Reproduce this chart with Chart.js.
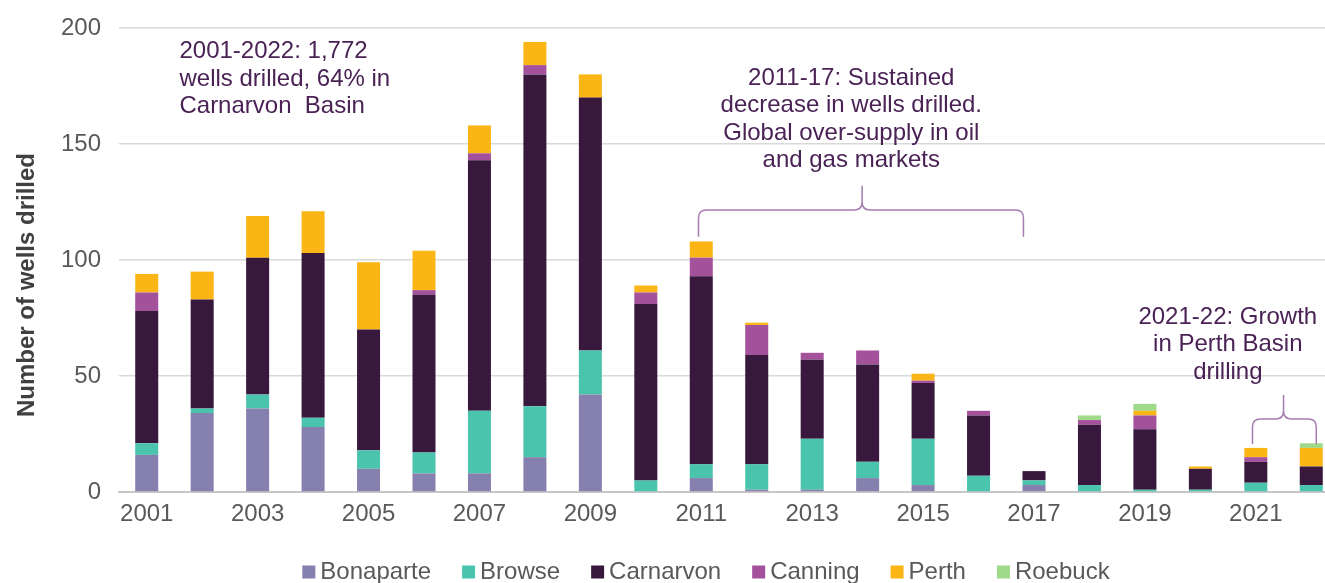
<!DOCTYPE html>
<html>
<head>
<meta charset="utf-8">
<script src="https://cdn.jsdelivr.net/npm/chart.js@4"></script>
<style>
  html, body { margin: 0; padding: 0; overflow: hidden; background: #fff; }
  canvas { display: block; }
</style>
</head>
<body>
<canvas id="chart" width="1345" height="586"></canvas>
<script>
var years = ["2001", "2002", "2003", "2004", "2005", "2006", "2007", "2008", "2009", "2010", "2011",
  "2012", "2013", "2014", "2015", "2016", "2017", "2018", "2019", "2020", "2021", "2022"];
var bonaparte = [16, 34, 36, 28, 10, 8, 8, 15, 42, 0, 6, 1, 1, 6, 3, 0, 3, 0, 0, 0, 0, 0];
var browse    = [5, 2, 6, 4, 8, 9, 27, 22, 19, 5, 6, 11, 22, 7, 20, 7, 2, 3, 1, 1, 4, 3];
var carnarvon = [57, 47, 59, 71, 52, 68, 108, 143, 109, 76, 81, 47, 34, 42, 24, 26, 4, 26, 26, 9, 9, 8];
var canning   = [8, 0, 0, 0, 0, 2, 3, 4, 0, 5, 8, 13, 3, 6, 1, 2, 0, 2, 6, 0, 2, 0];
var perth     = [8, 12, 18, 18, 29, 17, 12, 10, 10, 3, 7, 1, 0, 0, 3, 0, 0, 0, 2, 1, 4, 8];
var roebuck   = [0, 0, 0, 0, 0, 0, 0, 0, 0, 0, 0, 0, 0, 0, 0, 0, 0, 2, 3, 0, 0, 2];
var y_ticks = [0, 50, 100, 150, 200];

//annotation text, anchored in data units (x = category index, y = value)
var notes = [
  { x: 0.59, y: 189.8, align: "left",
    lines: ["2001-2022: 1,772", "wells drilled, 64% in", "Carnarvon  Basin"] },
  { x: 12.705, y: 178.3, align: "center",
    lines: ["2011-17: Sustained", "decrease in wells drilled.", "Global over-supply in oil", "and gas markets"] },
  { x: 19.495, y: 75.3, align: "center",
    lines: ["2021-22: Growth", "in Perth Basin", "drilling"] }
];
//braces: left/tip/right as category index, bottom/mid/top as values
var braces = [
  { left: 9.95, tip: 12.9, right: 15.81, bottom: 110, mid: 121.5, top: 132 },
  { left: 19.94, tip: 20.5, right: 21.09, bottom: 20.7, mid: 31.5, top: 41.8 }
];

var FONT = "'Liberation Sans', Arial, sans-serif";
var NOTE_COLOUR = "#4a2255";
var BRACE_COLOUR = "#a57cb0";

function make_set(label, data, colour) {
  return { label: label, data: data, backgroundColor: colour, borderWidth: 0,
           barPercentage: 0.415, categoryPercentage: 1.0 };
}

var annotations = {
  id: "annotations",
  afterDraw: function(chart) {
    var ctx = chart.ctx;
    var xs = chart.scales.x, ys = chart.scales.y;
    ctx.save();

    //y axis title
    ctx.save();
    ctx.translate(27, 285);
    ctx.rotate(-Math.PI / 2);
    ctx.font = "bold 24px " + FONT;
    ctx.fillStyle = "#404040";
    ctx.textAlign = "center";
    ctx.textBaseline = "middle";
    ctx.fillText("Number of wells drilled", 0, 0);
    ctx.restore();

    //legend, drawn here so the box/text gap matches the original
    ctx.font = "24px " + FONT;
    ctx.textBaseline = "middle";
    ctx.textAlign = "left";
    var items = chart.data.datasets;
    var widths = items.map(function(d) { return 18 + ctx.measureText(d.label).width; });
    var total = widths.reduce(function(a, b) { return a + b; }, 0) + 31 * (items.length - 1);
    var lx = 706 - total / 2, ly = 572;
    items.forEach(function(d, i) {
      ctx.fillStyle = d.backgroundColor;
      ctx.fillRect(lx, ly - 6.5, 13, 13);
      ctx.fillStyle = "#595959";
      ctx.fillText(d.label, lx + 18, ly);
      lx += widths[i] + 31;
    });

    //braces
    ctx.strokeStyle = BRACE_COLOUR;
    ctx.lineWidth = 1.5;
    braces.forEach(function(b) {
      var L = xs.getPixelForValue(b.left), T = xs.getPixelForValue(b.tip), R = xs.getPixelForValue(b.right);
      var yb = ys.getPixelForValue(b.bottom), ym = ys.getPixelForValue(b.mid), yt = ys.getPixelForValue(b.top);
      var r = 8;
      ctx.beginPath();
      ctx.moveTo(L, yb);
      ctx.lineTo(L, ym + r);
      ctx.quadraticCurveTo(L, ym, L + r, ym);
      ctx.lineTo(T - r, ym);
      ctx.quadraticCurveTo(T, ym, T, ym - r);
      ctx.lineTo(T, yt);
      ctx.moveTo(T, ym - r);
      ctx.quadraticCurveTo(T, ym, T + r, ym);
      ctx.lineTo(R - r, ym);
      ctx.quadraticCurveTo(R, ym, R, ym + r);
      ctx.lineTo(R, yb);
      ctx.stroke();
    });

    //notes
    ctx.font = "24px " + FONT;
    ctx.fillStyle = NOTE_COLOUR;
    ctx.textBaseline = "middle";
    notes.forEach(function(n) {
      var px = xs.getPixelForValue(n.x), py = ys.getPixelForValue(n.y);
      ctx.textAlign = n.align;
      n.lines.forEach(function(line, i) {
        ctx.fillText(line, px, py + i * 27.4);
      });
    });
    ctx.restore();
  }
};

var chart;
function create_chart() {
  var ctx = document.getElementById("chart").getContext("2d");
  chart = new Chart(ctx, {
    type: "bar",
    data: {
      labels: years,
      datasets: [
        make_set("Bonaparte", bonaparte, "#8580ae"),
        make_set("Browse", browse, "#4bc4ae"),
        make_set("Carnarvon", carnarvon, "#38193d"),
        make_set("Canning", canning, "#a3519a"),
        make_set("Perth", perth, "#fbb615"),
        make_set("Roebuck", roebuck, "#a0d98a")
      ]
    },
    plugins: [annotations],
    options: {
      responsive: false,
      animation: false,
      layout: { padding: { left: 0, right: 6, top: 28, bottom: 54 } },
      plugins: {
        tooltip: { enabled: false },
        legend: { display: false }
      },
      scales: {
        x: {
          stacked: true,
          afterFit: function(s) { s.height = 40; },
          grid: { display: false, drawTicks: false },
          border: { display: true, color: "#c6c6c6", width: 2 },
          ticks: {
            autoSkip: false, maxRotation: 0, padding: 8,
            color: "#595959",
            font: { family: FONT, size: 24 },
            callback: function(v, i) { return i % 2 === 0 ? years[i] : ""; }
          }
        },
        y: {
          stacked: true,
          min: 0, max: 200,
          afterFit: function(s) { s.width = 119; s.paddingTop = 0; s.paddingBottom = 0; },
          afterBuildTicks: function(s) { s.ticks = y_ticks.map(function(v) { return { value: v }; }); },
          grid: { color: "#d9d9d9", lineWidth: 1.5, drawTicks: false },
          border: { display: false },
          ticks: {
            padding: 18,
            color: "#595959",
            font: { family: FONT, size: 24 }
          }
        }
      }
    }
  });
}
create_chart();
</script>
</body>
</html>
